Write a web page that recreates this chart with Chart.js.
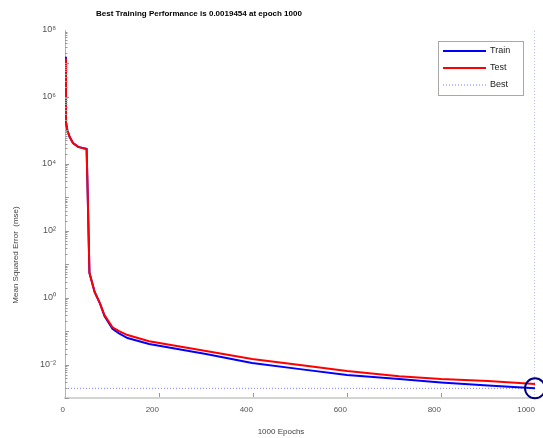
<!DOCTYPE html>
<html>
<head>
<meta charset="utf-8">
<script src="https://cdn.jsdelivr.net/npm/chart.js@4"></script>
<style>
  body { margin: 0; background: #fff; }
  canvas { display: block; }
</style>
</head>
<body>
<canvas id="perfChart" width="543" height="438"></canvas>
<script>
// training record
const epochs   = [0, 2, 5, 10, 17, 28, 46, 48, 52, 63, 74, 84, 101, 115, 133, 179, 300, 398, 500, 600, 711, 800, 900, 1000];
const trainMse = [1.6e7, 1.8e5, 1.0e5, 6.3e4, 4.2e4, 3.2e4, 2.8e4, 1.9e3, 5.5, 1.48, 0.69, 0.28, 0.117, 0.085, 0.062, 0.041, 0.0206, 0.0111, 0.0073, 0.0049, 0.0037, 0.0029, 0.00235, 0.0019454];
const testMse  = [1.4e7, 1.8e5, 1.0e5, 6.3e4, 4.2e4, 3.2e4, 2.7e4, 1.9e3, 5.5, 1.48, 0.70, 0.30, 0.13, 0.10, 0.076, 0.050, 0.0254, 0.0146, 0.0097, 0.0064, 0.0045, 0.0037, 0.0032, 0.0026];
const bestEpoch = 1000;
const bestPerf = 0.0019454;
const xTicks = [0, 200, 400, 600, 800, 1000];
const yTicks = [1e-2, 1e0, 1e2, 1e4, 1e6, 1e8];

const titleText = "Best Training Performance is 0.0019454 at epoch 1000";
const xLabel = "1000 Epochs";
const yLabel = "Mean Squared Error  (mse)";
const legendNames = ["Train", "Test", "Best"];

const sup = { "0": "\u2070", "1": "\u00b9", "2": "\u00b2", "3": "\u00b3", "4": "\u2074", "5": "\u2075",
  "6": "\u2076", "7": "\u2077", "8": "\u2078", "9": "\u2079", "-": "\u207b" };
function tenTo(v) {
  const e = String(Math.round(Math.log10(v)));
  return "10" + e.split("").map(c => sup[c]).join("");
}

const toPts = (ys) => epochs.map((e, i) => ({ x: e, y: ys[i] }));

const font = "'Liberation Sans', Arial, sans-serif";

// ticks drawn inside the axes, MATLAB style
const insideTicks = {
  id: "insideTicks",
  afterDraw(chart) {
    const { ctx, chartArea, scales } = chart;
    const x = scales.x, y = scales.y;
    ctx.save();
    ctx.strokeStyle = "#9a9a9a";
    ctx.lineWidth = 1;
    ctx.beginPath();
    for (let e = -3; e < 8; e++) {
      for (let k = 1; k < 10; k++) {
        const v = k * Math.pow(10, e);
        const py = Math.round(y.getPixelForValue(v)) + 0.5;
        const len = k === 1 ? 4 : 2.5;
        ctx.moveTo(chartArea.left, py);
        ctx.lineTo(chartArea.left + len, py);
      }
    }
    xTicks.forEach(v => {
      if (v === 0 || v === 1000) return;
      const px = Math.round(x.getPixelForValue(v)) + 0.5;
      ctx.moveTo(px, chartArea.bottom - 1);
      ctx.lineTo(px, chartArea.bottom - 5);
    });
    ctx.stroke();
    ctx.restore();
  }
};

// title, axis labels and legend box placed like the MATLAB figure
const figureText = {
  id: "figureText",
  afterDraw(chart) {
    const ctx = chart.ctx;
    ctx.save();
    ctx.fillStyle = "#000";
    ctx.font = "bold 8px " + font;
    ctx.textAlign = "left";
    ctx.textBaseline = "middle";
    ctx.fillText(titleText, 96, 14);

    ctx.fillStyle = "#444";
    ctx.font = "8px " + font;
    ctx.textAlign = "center";
    ctx.fillText(xLabel, 281, 432);

    ctx.translate(16, 255);
    ctx.rotate(-Math.PI / 2);
    ctx.fillText(yLabel, 0, 0);
    ctx.restore();

    // legend
    const ds = chart.data.datasets;
    ctx.save();
    ctx.fillStyle = "#fff";
    ctx.fillRect(438.5, 41.5, 85, 54);
    ctx.strokeStyle = "#a8a8a8";
    ctx.lineWidth = 1;
    ctx.strokeRect(438.5, 41.5, 85, 54);
    ctx.font = "9px " + font;
    ctx.textAlign = "left";
    ctx.textBaseline = "middle";
    [0, 1, 2].forEach(i => {
      const yy = 51 + i * 17;
      ctx.beginPath();
      ctx.strokeStyle = ds[i].borderColor;
      ctx.lineWidth = ds[i].borderWidth;
      ctx.setLineDash(ds[i].borderDash || []);
      ctx.moveTo(443, yy);
      ctx.lineTo(486, yy);
      ctx.stroke();
      ctx.fillStyle = "#222";
      ctx.fillText(legendNames[i], 490, yy);
    });
    ctx.restore();
  }
};

const bestStyle = { borderColor: "#7d7dff", borderWidth: 1, borderDash: [1, 2], pointRadius: 0, fill: false };

new Chart(document.getElementById("perfChart").getContext("2d"), {
  type: "line",
  data: {
    datasets: [
      { label: "Train", data: toPts(trainMse), borderColor: "#0000ff", borderWidth: 2, pointRadius: 0, order: 2 },
      { label: "Test", data: toPts(testMse), borderColor: "#ff0000", borderWidth: 2, pointRadius: 0, order: 1 },
      Object.assign({ label: "Best", data: [{ x: 0, y: bestPerf }, { x: bestEpoch, y: bestPerf }], order: 3 }, bestStyle),
      Object.assign({ label: "BestV", data: [{ x: bestEpoch, y: 1e-3 }, { x: bestEpoch, y: 1e8 }], order: 3 }, bestStyle),
      { label: "Circle", data: [{ x: bestEpoch, y: bestPerf }], showLine: false, pointRadius: 10,
        pointBorderWidth: 2, pointBorderColor: "#00007f", pointBackgroundColor: "rgba(0,0,0,0)", clip: false, order: 0 }
    ]
  },
  options: {
    responsive: false,
    animation: false,
    layout: { autoPadding: false, padding: { top: 30, right: 8, left: 0, bottom: 0 } },
    plugins: { legend: { display: false }, tooltip: { enabled: false }, title: { display: false } },
    scales: {
      x: {
        type: "linear", min: 0, max: 1000,
        afterBuildTicks: (s) => { s.ticks = xTicks.map(v => ({ value: v })); },
        afterFit: (s) => { s.height = 40; s.paddingLeft = 0; s.paddingRight = 0; },
        grid: { display: false, drawTicks: false },
        border: { color: "#d4d4d4", width: 2 },
        ticks: { padding: 7, align: "end", color: "#555", font: { size: 8, family: font }, callback: (v) => String(v) }
      },
      y: {
        type: "logarithmic", min: 1e-3, max: 1e8,
        afterBuildTicks: (s) => { s.ticks = yTicks.map(v => ({ value: v })); },
        afterFit: (s) => { s.width = 65; s.paddingTop = 0; s.paddingBottom = 0; },
        grid: { display: false, drawTicks: false },
        border: { color: "#b4b4b4", width: 1 },
        ticks: { padding: 9, color: "#555", font: { size: 9, family: font }, callback: (v) => tenTo(v) }
      }
    }
  },
  plugins: [insideTicks, figureText]
});
</script>
</body>
</html>
